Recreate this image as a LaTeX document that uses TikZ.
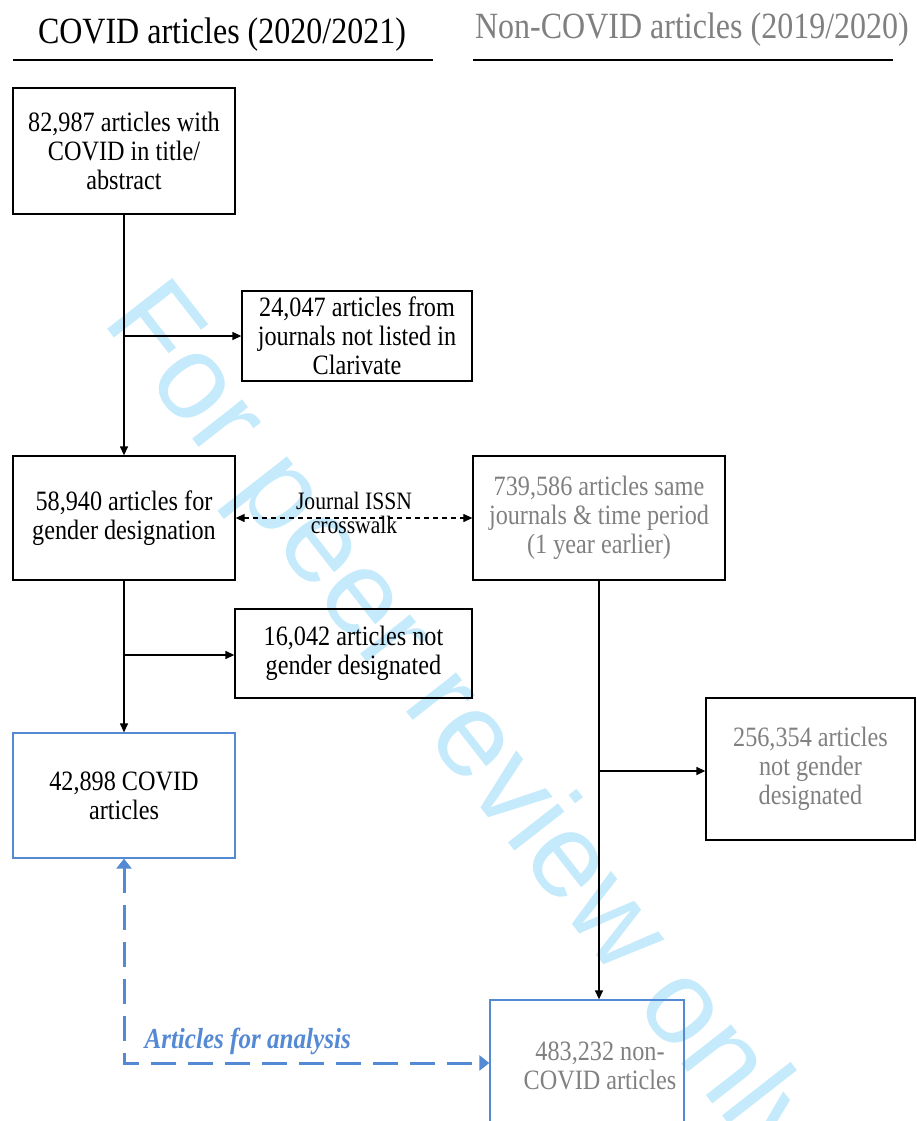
\documentclass[tikz,border=0pt]{standalone}
\usepackage{fontspec}
\setmainfont[FakeStretch=0.865]{Liberation Serif}
\newfontfamily\wmfont{Liberation Sans}
\usetikzlibrary{arrows.meta}
\definecolor{accent}{RGB}{84,137,212}
\definecolor{txtgray}{RGB}{128,128,128}
\definecolor{wmcyan}{RGB}{196,234,251}
\tikzset{
  box/.style={draw=black, line width=1.3pt, inner sep=0pt, align=center,
    font=\fontsize{28}{29}\selectfont},
  bluebox/.style={box, draw=accent},
  arr/.style={line width=1.3pt, -{Triangle[length=9pt,width=8pt]}},
  xwalk/.style={line width=1.2pt, dash pattern=on 5pt off 4pt,
    {Triangle[length=9pt,width=8pt]}-{Triangle[length=9pt,width=8pt]}},
  bluearr/.style={draw=accent, line width=3pt, dash pattern=on 25pt off 12pt,
    {Triangle[length=10pt,width=15pt]}-{Triangle[length=10pt,width=15pt]}},
  hdr/.style={anchor=base, font=\fontsize{37}{37}\selectfont},
  rule/.style={line width=1.5pt}
}
\begin{document}
\begin{tikzpicture}[x=1pt,y=-1pt]
\useasboundingbox (0,0) rectangle (916,1121);
\clip (0,0) rectangle (916,1121);

% watermark
\node[rotate=-52, anchor=base, text=wmcyan,
  font=\wmfont\fontsize{120}{120}\selectfont] (wm) at (436,750) {For peer review only};

% headers
\node[hdr] (hl) at (222,44) {COVID articles (2020/2021)};
\node[hdr, text=txtgray] (hr) at (692,39) {Non-COVID articles (2019/2020)};
\coordinate (hl1) at (13,60); \coordinate (hl2) at (433,60);
\coordinate (hr1) at (473,60); \coordinate (hr2) at (893,60);
\draw[rule] (hl1) -- (hl2);
\draw[rule] (hr1) -- (hr2);

% boxes
\node[box, minimum width=222pt, minimum height=126pt] (b1) at (124,151)
  {82,987 articles with\\COVID in title/\\abstract};
\node[box, minimum width=230pt, minimum height=90pt] (b2) at (357,336)
  {24,047 articles from\\journals not listed in\\Clarivate};
\node[box, minimum width=222pt, minimum height=124pt] (b3) at (124,518)
  {58,940 articles for\\gender designation};
\node[box, text=txtgray, minimum width=252pt, minimum height=124pt] (b4) at (599,518)
  {739,586 articles same\\journals \& time period\\(1 year earlier)};
\node[box, minimum width=237pt, minimum height=89pt] (b5) at (353.5,653.5)
  {16,042 articles not\\gender designated};
\node[bluebox, minimum width=222pt, minimum height=125pt] (b6) at (124,795.5)
  {42,898 COVID\\articles};
\node[box, text=txtgray, minimum width=209pt, minimum height=142pt] (b7) at (810.5,769)
  {256,354 articles\\not gender\\designated};
\node[bluebox, minimum width=194pt, minimum height=126pt] (b8) at (587,1063) {};
\node[text=txtgray, align=center, font=\fontsize{28}{29}\selectfont] (b8t) at (600,1066)
  {483,232 non-\\COVID articles};

% connectors
\draw[arr] (b1.south) -- (b3.north);
\draw[arr] (b1.south |- b2.west) -- (b2.west);
\draw[arr] (b3.south) -- (b6.north);
\draw[arr] (b3.south |- 0,655) -- (b5.west |- 0,655);
\draw[xwalk] (b3.east) -- (b4.west);
\node[anchor=base, font=\fontsize{25}{25}\selectfont] (xw1) at (354,509) {Journal ISSN};
\node[anchor=base, font=\fontsize{25}{25}\selectfont] (xw2) at (354,533) {crosswalk};
\draw[arr] (b4.south) -- (b4.south |- b8.north);
\draw[arr] (b4.south |- 0,771) -- (b7.west |- 0,771);
\draw[bluearr] (b6.south) |- (b8.west);
\node[anchor=base west, text=accent, font=\fontsize{29}{29}\selectfont\bfseries\itshape]
  (afa) at (141,1048) {Articles for analysis};
\end{tikzpicture}
\end{document}
